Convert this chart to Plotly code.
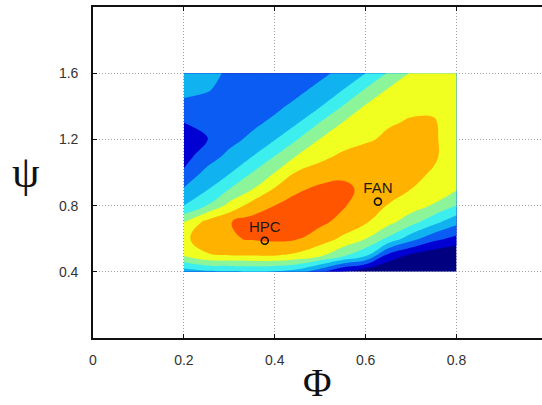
import plotly.graph_objects as go

# grid coordinates (Phi along x, Psi along y)
phi = [0.20, 0.25, 0.30, 0.35, 0.40, 0.45, 0.50, 0.55, 0.60, 0.65, 0.70, 0.75, 0.80]
psi = [0.4, 0.5, 0.6, 0.7, 0.8, 0.9, 1.0, 1.1, 1.2, 1.3, 1.4, 1.5, 1.6]

# contour level at each grid node (rows = psi, cols = phi)
z_04 = [3.0, 3.3, 3.4, 3.5, 3.4, 3.0, 1.8, 0.3, -0.3, -0.6, -0.8, -1.0, -1.0]
z_05 = [5.6, 6.4, 6.5, 6.55, 6.55, 6.3, 5.7, 4.7, 3.7, 1.2, 0.3, -0.2, -0.5]
z_06 = [6.3, 7.0, 7.4, 7.58, 7.7, 7.55, 7.0, 6.3, 5.5, 4.3, 2.9, 1.8, 1.2]
z_07 = [5.5, 6.8, 7.45, 7.9, 8.1, 8.0, 7.7, 7.2, 6.6, 5.8, 4.9, 3.8, 2.8]
z_08 = [3.5, 4.5, 5.8, 6.9, 7.5, 7.9, 7.95, 7.6, 7.0, 6.45, 6.0, 5.4, 4.5]
z_09 = [2.6, 3.4, 4.5, 5.45, 6.6, 7.35, 7.7, 7.7, 7.3, 6.9, 6.5, 6.1, 5.6]
z_10 = [1.6, 2.8, 3.4, 4.5, 5.5, 6.6, 7.0, 7.3, 7.3, 7.1, 6.8, 6.4, 5.7]
z_11 = [1.2, 1.9, 2.8, 3.45, 4.5, 5.55, 6.2, 6.7, 7.0, 7.1, 7.0, 6.65, 5.9]
z_12 = [1.1, 1.45, 2.1, 2.8, 3.45, 4.5, 5.55, 6.0, 6.35, 6.7, 6.9, 6.6, 6.1]
z_13 = [1.5, 1.7, 1.8, 2.2, 2.8, 3.45, 4.55, 5.55, 6.0, 6.4, 6.6, 6.55, 6.2]
z_14 = [2.3, 2.0, 1.8, 1.75, 2.2, 2.85, 3.45, 4.55, 5.6, 6.0, 6.3, 6.4, 6.3]
z_15 = [2.7, 2.6, 2.1, 1.9, 1.85, 2.2, 2.85, 3.5, 4.6, 5.6, 6.0, 6.2, 6.2]
z_16 = [3.3, 2.9, 2.3, 2.0, 1.9, 1.95, 2.2, 2.85, 3.5, 4.6, 5.6, 6.0, 6.2]
z_rows = [z_04, z_05, z_06, z_07, z_08, z_09, z_10, z_11, z_12, z_13, z_14, z_15, z_16]

# band colours, lowest to highest
band_colors = ["#000080", "#0000D2", "#0A5CF2", "#10B2F0", "#3CEEEE",
               "#8CF59A", "#F0FF20", "#FFB300", "#FF5500"]

# operating points
pt_names = ["HPC", "FAN"]
pt_phi = [0.378, 0.627]
pt_psi = [0.588, 0.824]

x_ticks = [0, 0.2, 0.4, 0.6, 0.8]
y_ticks = [0.4, 0.8, 1.2, 1.6]

n = len(band_colors)
colorscale = []
for i, c in enumerate(band_colors):
    colorscale.append([i / n, c])
    colorscale.append([(i + 1) / n, c])

fig = go.Figure()
fig.add_trace(go.Contour(
    x=phi, y=psi, z=z_rows,
    colorscale=colorscale, zmin=-0.5, zmax=n - 0.5,
    autocontour=False,
    contours=dict(start=0.5, end=n - 1.5, size=1, coloring="fill", showlines=False),
    line=dict(width=0, smoothing=1.3),
    showscale=False, hoverinfo="skip",
))
fig.add_trace(go.Scatter(
    x=pt_phi, y=pt_psi, mode="markers+text",
    text=pt_names, textposition="top center",
    textfont=dict(family="Liberation Sans, Arial", size=15, color="#1a1a1a"),
    marker=dict(symbol="circle-open", size=7, color="#111111", line=dict(width=1.6, color="#111111")),
    showlegend=False, hoverinfo="skip",
))

axis_common = dict(
    showgrid=True, gridcolor="#a0a0a0", griddash="1px,2px", gridwidth=1,
    showline=True, linecolor="#111111", linewidth=1.6,
    ticks="inside", ticklen=4, tickcolor="#111111",
    tickfont=dict(family="Liberation Sans, Arial", size=14, color="#333333"),
    zeroline=False,
)
fig.update_xaxes(range=[0, 0.988], tickvals=x_ticks, ticktext=["0", "0.2", "0.4", "0.6", "0.8"],
                 mirror="ticks", ticklabelstandoff=8, **axis_common)
fig.update_yaxes(range=[0, 2.0], tickvals=y_ticks, ticktext=["0.4", "0.8", "1.2", "1.6"],
                 mirror=False, ticklabelstandoff=10, **axis_common)

fig.update_layout(
    width=542, height=405,
    margin=dict(l=93, r=0, t=7, b=67),
    paper_bgcolor="white", plot_bgcolor="white",
    showlegend=False,
    annotations=[
        dict(text="ψ", xref="paper", yref="paper", x=-0.149, y=0.5, xanchor="center", yanchor="middle",
             showarrow=False, font=dict(family="Liberation Serif, Times New Roman", size=44, color="#111111")),
        dict(text="Φ", xref="paper", yref="paper", x=0.499, y=-0.134, xanchor="center", yanchor="middle",
             showarrow=False, font=dict(family="Liberation Serif, Times New Roman", size=39, color="#111111")),
    ],
)

fig.write_html("out.html")
